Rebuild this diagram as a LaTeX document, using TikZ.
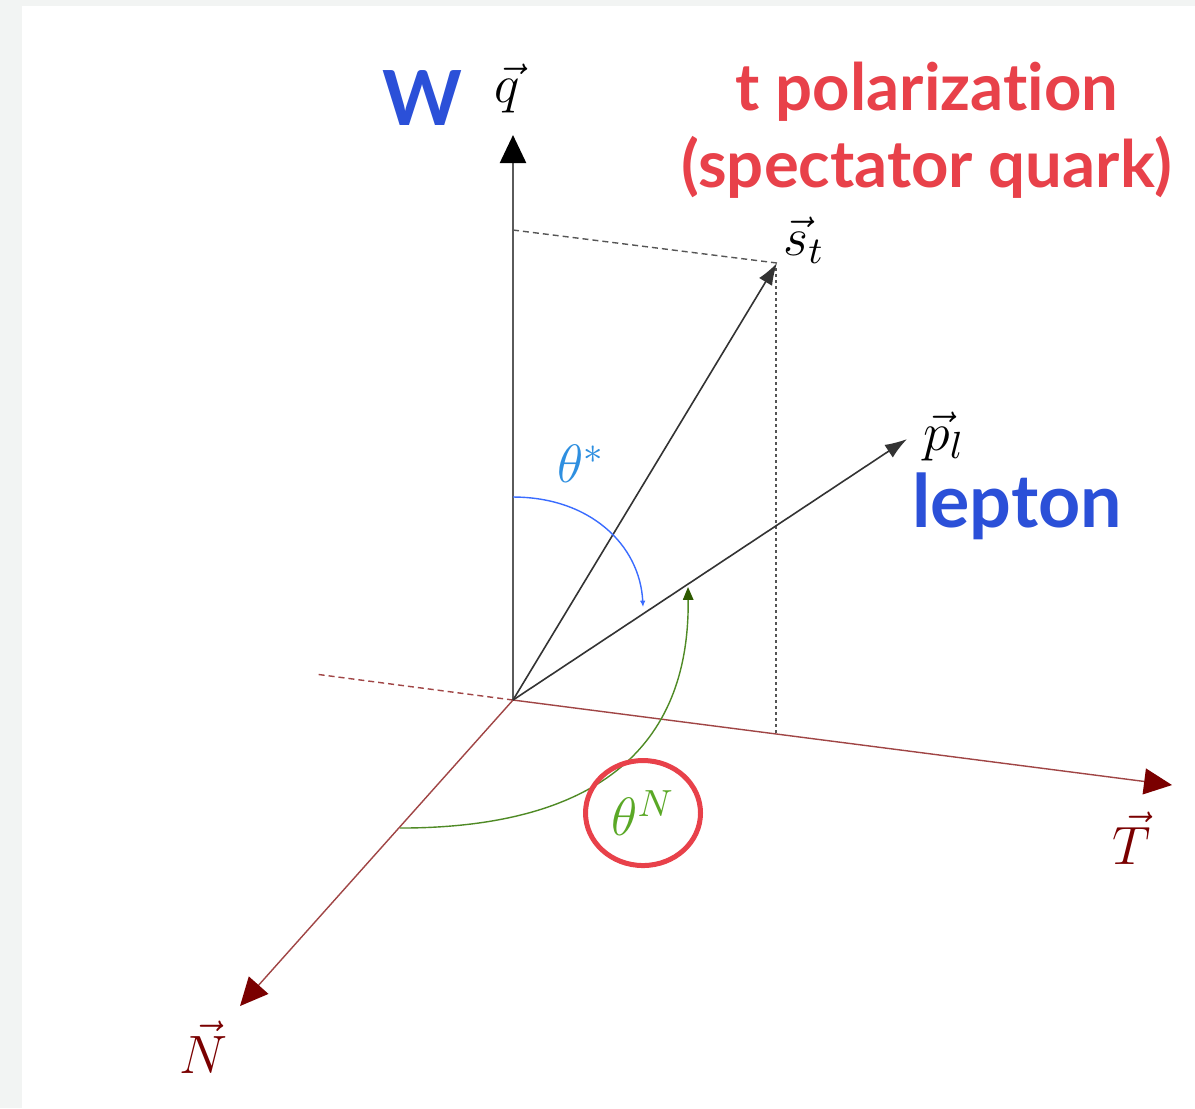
\RequirePackage{fix-cm}
\documentclass[tikz,border=0pt]{standalone}
\usepackage{fontspec}
\usepackage{amsmath}
\usetikzlibrary{arrows.meta, positioning, shapes.geometric}
\newfontfamily\slidefont[Ligatures={NoCommon}]{Lato}
\definecolor{pagegray}{HTML}{F2F4F3}
\definecolor{axisred}{HTML}{A04545}
\definecolor{tipred}{HTML}{7A0000}
\definecolor{vecgray}{HTML}{333333}
\definecolor{qgray}{HTML}{5A5A5A}
\definecolor{guidegray}{HTML}{555555}
\definecolor{textred}{HTML}{E8414A}
\definecolor{textblue}{HTML}{2B50D8}
\definecolor{starblue}{HTML}{2E8FE0}
\definecolor{arcblue}{HTML}{3A6CFF}
\definecolor{arcgreen}{HTML}{4F8A25}
\definecolor{tipgreen}{HTML}{2E5A00}
\definecolor{labelgreen}{HTML}{5AA826}

\begin{document}
\begin{tikzpicture}[
    x=0.25pt, y=-0.25pt,
    every node/.style={inner sep=0pt},
    veclabel/.style={font=\fontsize{13.5}{16}\selectfont},
    slidetext/.style={font=\slidefont\bfseries\fontsize{16.3}{19.25}\selectfont, align=center},
    frameaxis/.style={draw=axisred, line width=0.35pt, -{Triangle[length=7pt, width=6.5pt, color=tipred]}},
    vecline/.style={draw=vecgray, line width=0.4pt, -{Latex[length=5.5pt, width=3.8pt]}},
    guide/.style={draw=guidegray, line width=0.35pt, dash pattern=on 1.5pt off 1pt},
    anglearc/.style={line width=0.35pt}
]
    % Page
    \useasboundingbox (0,0) rectangle (1195,1108);
    \fill[pagegray] (0,0) rectangle (1195,1108);
    \fill[white] (22,6) rectangle (1195,1108);

    % Points
    \coordinate (O) at (513,700);
    \coordinate (qtip) at (513,135);
    \coordinate (sttip) at (777,263);
    \coordinate (pltip) at (907,439);
    \coordinate (Ttip) at (1172,785);
    \coordinate (Ntip) at (240,1006);
    \coordinate (Tback) at (315,674);
    \coordinate (qproj) at (513,230);
    \coordinate (stfoot) at (776,268);
    \coordinate (Tproj) at (776,734);
    \coordinate (qarc) at (513,497);
    \coordinate (plarc) at (643,607);
    \coordinate (Narc) at (400,828);
    \coordinate (plarcN) at (688,587);

    % Projections of s_t
    \draw[guide] (qproj) -- (sttip);
    \draw[guide, dash pattern=on 0.75pt off 0.75pt] (stfoot) -- (Tproj);
    \draw[draw=axisred, line width=0.35pt, dash pattern=on 1.5pt off 1pt] (O) -- (Tback);

    % Frame axes
    \draw[draw=qgray, line width=0.6pt, -{Triangle[length=7pt, width=6.5pt, color=black]}] (O) -- (qtip);
    \draw[frameaxis] (O) -- (Ttip);
    \draw[frameaxis] (O) -- (Ntip);

    % Spin and lepton
    \draw[vecline] (O) -- (sttip);
    \draw[vecline] (O) -- (pltip);

    % Angles
    \draw[anglearc, draw=arcblue, -{Latex[length=1.6pt, width=1.4pt]}] (qarc) .. controls (590,497) and (640,545) .. (plarc);
    \draw[anglearc, draw=arcgreen, -{Triangle[length=3.2pt, width=2.6pt, color=tipgreen]}] (Narc) .. controls (580,828) and (690,760) .. (plarcN);

    % Labels
    \node[veclabel] (qlab) at (507,88) {$\vec{q}$};
    \node[veclabel] (stlab) at (804,240) {$\vec{s}_t$};
    \node[veclabel] (pllab) at (944,436) {$\vec{p}_l$};
    \node[veclabel, text=tipred] (Tlab) at (1132,838) {$\vec{T}$};
    \node[veclabel, text=tipred] (Nlab) at (203,1047) {$\vec{N}$};
    \node[veclabel, text=starblue] (thetastar) at (581,464) {$\theta^*$};
    \node[veclabel, text=labelgreen, ellipse, draw=textred, line width=1.25pt,
          minimum width=28.75pt, minimum height=26.25pt] (thetaN) at (643,813) {$\theta^N$};

    % Slide text
    \node[slidetext, font=\slidefont\bfseries\fontsize{19}{22}\selectfont, text=textblue, anchor=base] (wlab) at (422,125) {W};
    \node[slidetext, text=textred, anchor=base] (tpol) at (927,187) {t polarization\\(spectator quark)};
    \node[slidetext, font=\slidefont\bfseries\fontsize{18.4}{21}\selectfont, text=textblue, anchor=base] (leptonlab) at (1017,527) {lepton};
\end{tikzpicture}
\end{document}
